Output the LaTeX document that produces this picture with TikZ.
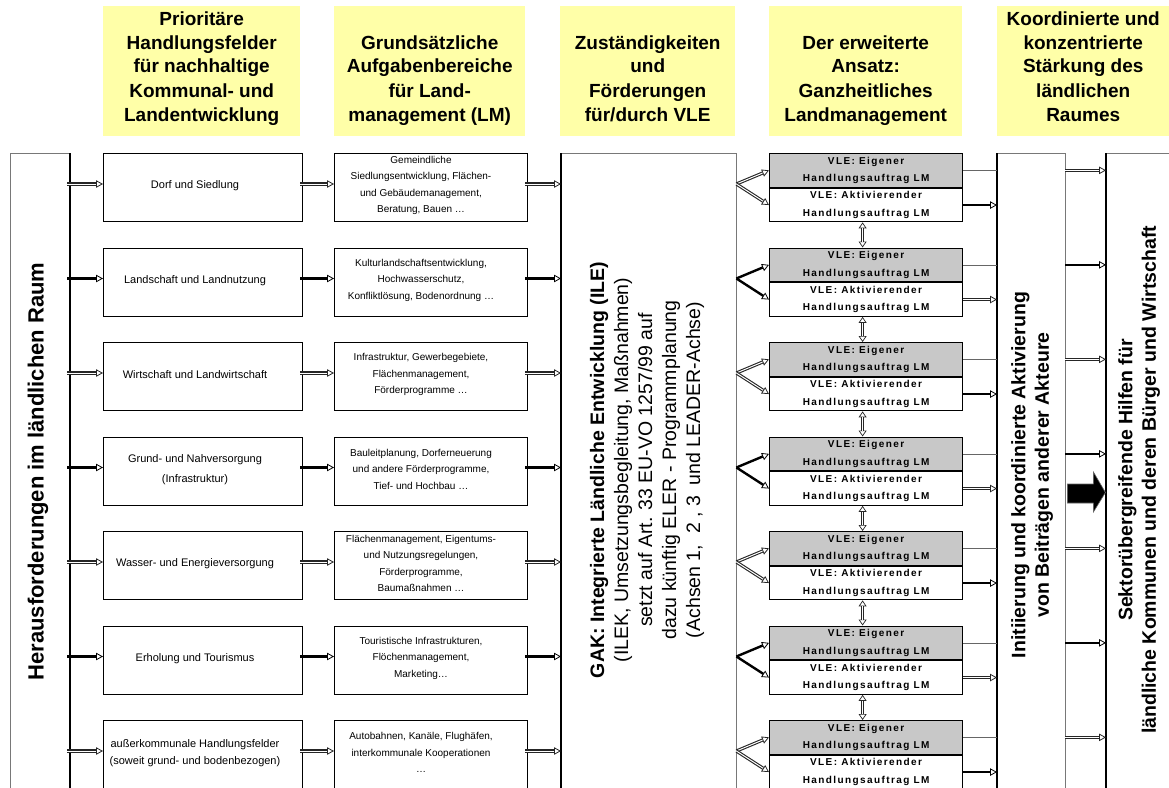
\documentclass[tikz,border=0pt]{standalone}
\usepackage{fontspec}
\setmainfont{Liberation Sans}
\newfontfamily\vlefont[LetterSpace=14]{Liberation Sans}
\usetikzlibrary{arrows.meta}
\definecolor{hdryellow}{RGB}{255,255,168}
\definecolor{vlegray}{RGB}{200,200,200}
\definecolor{edgegray}{RGB}{120,120,120}
\newcommand\hdrtext[2]{\begin{minipage}[t][130pt][b]{#1}\centering\fontsize{19}{24}\selectfont\bfseries #2\strut\par\vspace{8pt}\end{minipage}}
\begin{document}
\begin{tikzpicture}[x=1pt,y=-1pt,
  hdr/.style={fill=hdryellow, inner sep=0pt, anchor=north west},
  box/.style={draw=black, line width=1.3pt, anchor=north west, inner sep=0pt},
  c1box/.style={box, minimum width=199pt, minimum height=68pt},
  c2box/.style={box, minimum width=193pt, minimum height=68pt},
  c1text/.style={align=center, inner sep=0pt, font=\fontsize{11}{17}\selectfont},
  c2text/.style={align=center, inner sep=0pt, font=\fontsize{10}{16.5}\selectfont},
  vle/.style={draw=black, line width=1.2pt, minimum width=193pt, minimum height=33.5pt, inner sep=0pt, align=center, font=\vlefont\bfseries\fontsize{10}{17.5}\selectfont},
  frame/.style={inner sep=0pt, minimum height=640pt, anchor=north west},
  thinedge/.style={draw=edgegray, line width=0.8pt},
  bus/.style={draw=black, line width=2pt},
  thinline/.style={draw=black!60, line width=0.7pt},
  arr0/.style={line width=3.2pt, draw=black!85, -{Triangle[open, length=7pt, width=7.5pt, line width=0.8pt]}, postaction={draw=white, line width=1pt, shorten >=7pt, -}},
  arr1/.style={line width=2.4pt, draw=black, -{Triangle[open, length=7pt, width=7.5pt, line width=0.8pt]}},
  varr/.style={line width=3.4pt, draw=black!85, {Triangle[open, length=6pt, width=8pt, line width=0.7pt]}-{Triangle[open, length=6pt, width=8pt, line width=0.7pt]}, postaction={draw=white, line width=1.1pt, shorten >=6pt, shorten <=6pt, -}},
  bigtext/.style={rotate=90, align=center, font=\fontsize{19.5}{23.5}\selectfont\bfseries}
]
\useasboundingbox (0,0) rectangle (1169,787);
\clip (0,0) rectangle (1169,787);

% headers
\node[hdr] (h1) at (103,6) {\hdrtext{197pt}{Prioritäre\\Handlungsfelder\\für nachhaltige\\Kommunal- und\\Landentwicklung}};
\node[hdr] (h2) at (334,6) {\hdrtext{191pt}{Grundsätzliche\\Aufgabenbereiche\\für Land-\\management (LM)}};
\node[hdr] (h3) at (560,6) {\hdrtext{175pt}{Zuständigkeiten\\und\\Förderungen\\für/durch VLE}};
\node[hdr] (h4) at (769,6) {\hdrtext{193pt}{Der erweiterte\\Ansatz:\\Ganzheitliches\\Landmanagement}};
\node[hdr] (h5) at (997,6) {\hdrtext{172pt}{Koordinierte und\\konzentrierte\\Stärkung des\\ländlichen\\Raumes}};

% tall frames
\node[frame, minimum width=60pt] (her) at (10,153) {};
\node[frame, minimum width=175pt] (gak) at (561,153) {};
\node[frame, minimum width=68pt] (init) at (997,153) {};
\node[frame, minimum width=70pt] (sek) at (1106,153) {};
\draw[thinedge] (her.south west) -- (her.north west) -- (her.north east);
\draw[bus] (her.north east) -- (her.south east);
\draw[thinedge] (gak.north west) -- (gak.north east) -- (gak.south east);
\draw[bus] (gak.north west) -- (gak.south west);
\draw[thinedge] (init.north west) -- (init.north east) -- (init.south east);
\draw[bus] (init.north west) -- (init.south west);
\draw[thinedge] (sek.north west) -- (sek.north east);
\draw[bus] (sek.north west) -- (sek.south west);

\node[rotate=90, font=\fontsize{22}{28}\selectfont\bfseries] (hert) at (38,471.5) {Herausforderungen im ländlichen Raum};
\node[rotate=90, align=center, font=\fontsize{19.5}{24}\selectfont] (gakt) at (647,470)
  {\textbf{GAK: Integrierte Ländliche Entwicklung (ILE)}\\(ILEK, Umsetzungsbegleitung, Maßnahmen)\\setzt auf Art. 33 EU-VO 1257/99 auf\\dazu künftig ELER - Programmplanung\\(Achsen 1,\ \ 2 , 3\ \ und LEADER-Achse)};
\node[bigtext] (initt) at (1032,475) {Initiierung und koordinierte Aktivierung\\von Beiträgen anderer Akteure};
\node[bigtext] (sekt) at (1139,480) {Sektorübergreifende Hilfen für\\ländliche Kommunen und deren Bürger und Wirtschaft};

% rows
\foreach \i/\ta/\tb in {
 0/{Dorf und Siedlung}/{Gemeindliche\\Siedlungsentwicklung, Flächen-\\und Gebäudemanagement,\\Beratung, Bauen …},
 1/{Landschaft und Landnutzung}/{Kulturlandschaftsentwicklung,\\Hochwasserschutz,\\Konfliktlösung, Bodenordnung …},
 2/{Wirtschaft und Landwirtschaft}/{Infrastruktur, Gewerbegebiete,\\Flächenmanagement,\\Förderprogramme …},
 3/{Grund- und Nahversorgung\\[3pt](Infrastruktur)}/{Bauleitplanung, Dorferneuerung\\und andere Förderprogramme,\\Tief- und Hochbau …},
 4/{Wasser- und Energieversorgung}/{Flächenmanagement, Eigentums-\\und Nutzungsregelungen,\\Förderprogramme,\\Baumaßnahmen …},
 5/{Erholung und Tourismus}/{Touristische Infrastrukturen,\\Flöchenmanagement,\\Marketing…},
 6/{außerkommunale Handlungsfelder\\(soweit grund- und bodenbezogen)}/{Autobahnen, Kanäle, Flughäfen,\\interkommunale Kooperationen\\…}}
{
 \pgfmathsetmacro\T{153+94.5*\i}
 \pgfmathtruncatemacro\m{mod(\i,2)}
 \pgfmathtruncatemacro\n{1-\m}
 \node[c1box] (c1-\i) at (103,\T) {};
 \node[c1text] (c1t-\i) at (195,\T+33) {\ta};
 \node[c2box] (c2-\i) at (334,\T) {};
 \node[c2text] (c2t-\i) at (421,\T+32.5) {\tb};
 \node[vle, fill=vlegray, anchor=north west] (vg-\i) at (769,\T) {VLE: Eigener\\Handlungsauftrag LM};
 \node[vle, fill=white, anchor=north] (vw-\i) at (vg-\i.south) {VLE: Aktivierender\\Handlungsauftrag LM};
 \coordinate (y-\i) at (0,\T+31);
 \coordinate (f-\i) at (gak.east |- y-\i);
 \draw[arr\m] ([xshift=-3pt]her.east |- y-\i) -- (c1-\i.west |- y-\i);
 \draw[arr\m] ([xshift=-3pt]c1-\i.east |- y-\i) -- (c2-\i.west |- y-\i);
 \draw[arr\m] ([xshift=-3pt]c2-\i.east |- y-\i) -- (gak.west |- y-\i);
 \draw[arr\m] (f-\i) -- (vg-\i.west);
 \draw[arr\m] (f-\i) -- (vw-\i.west);
 \draw[thinline] (vg-\i.east) -- (vg-\i.east -| init.west);
 \draw[arr\n] (vw-\i.east) -- (vw-\i.east -| init.west);
 \draw[arr\m] (vg-\i.east -| init.east) -- (vg-\i.east -| sek.west);
}
\foreach \i [evaluate=\i as \j using int(\i+1)] in {0,...,5}{
 \draw[varr] ([xshift=-3.5pt]vw-\i.south) -- ([xshift=-3.5pt]vg-\j.north);
}
% big block arrow
\coordinate (ybig) at (0,492.5);
\coordinate (ba) at ([xshift=2pt]init.east |- ybig);
\filldraw[fill=black, draw=black!60, line width=0.6pt] (ba) ++(0,-8.5) -- ++(26,0) -- ++(0,-12) -- ++(12,20.5) -- ++(-12,19.5) -- ++(0,-9) -- ++(-26,0) -- cycle;
\end{tikzpicture}
\end{document}
